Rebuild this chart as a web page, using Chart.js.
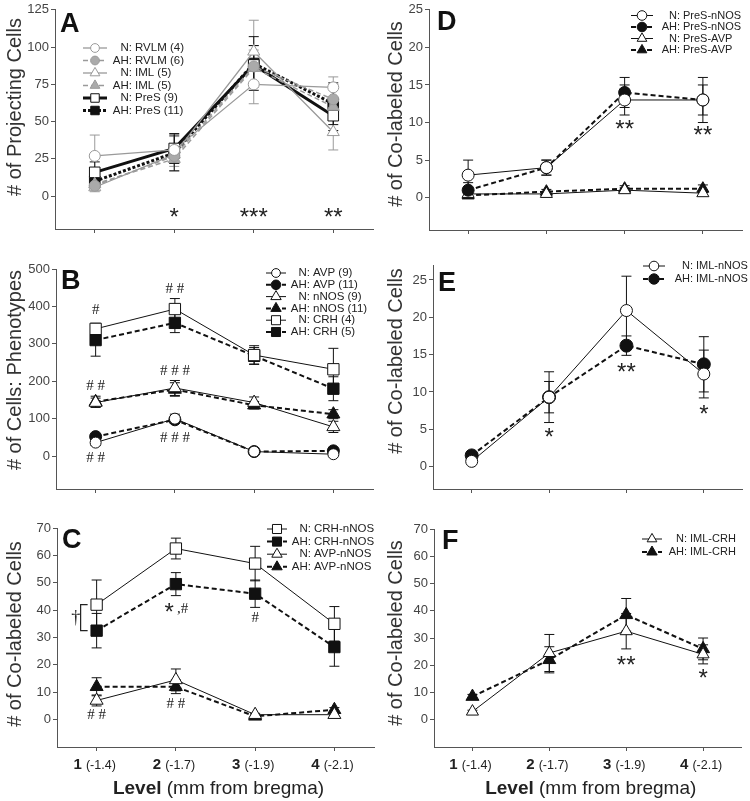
<!DOCTYPE html>
<html>
<head>
<meta charset="utf-8">
<script src="https://cdn.jsdelivr.net/npm/chart.js@4.4.0/dist/chart.umd.min.js"></script>
<style>
html, body { margin: 0; padding: 0; background: #fff; }
#wrap { position: relative; width: 750px; height: 801px; }
canvas { position: absolute; left: 0; top: 0; }
</style>
</head>
<body>
<div id="wrap">
<canvas id="cA"></canvas><canvas id="cB"></canvas><canvas id="cC"></canvas>
<canvas id="cD"></canvas><canvas id="cE"></canvas><canvas id="cF"></canvas>
</div>
<script>
// levels along the x axis
const levels = [1, 2, 3, 4];
const levelNums = ['1', '2', '3', '4'];
const bregma = ['(-1.4)', '(-1.7)', '(-1.9)', '(-2.1)'];

// A - projecting cells (mean, sem)
const rvlmN = [27, 31, 75, 73],  rvlmNErr = [14, 9, 13, 7];
const rvlmAH = [7, 27, 87, 65],  rvlmAHErr = [3, 7, 14, 10];
const imlN = [6, 28, 97, 43],    imlNErr = [3, 6, 21, 12];
const imlAH = [8, 25, 86, 60],   imlAHErr = [3, 8, 12, 6];
const presN = [16, 32, 88, 54],  presNErr = [7, 10, 13, 10];
const presAH = [10, 29, 89, 62], presAHErr = [4, 12, 18, 14];
const aTicks = [0, 25, 50, 75, 100, 125];

// B - phenotypes
const avpN = [36, 100, 12, 5],      avpNErr = [8, 12, 5, 4];
const avpAH = [52, 97, 12, 14],     avpAHErr = [6, 10, 4, 5];
const nosN = [143, 182, 143, 78],   nosNErr = [12, 20, 15, 15];
const nosAH = [145, 178, 136, 112], nosAHErr = [15, 18, 10, 12];
const crhN = [340, 393, 270, 232],  crhNErr = [15, 28, 25, 56];
const crhAH = [310, 356, 268, 180], crhAHErr = [43, 26, 22, 32];
const bTicks = [0, 100, 200, 300, 400, 500];

// C - co-labeled with nNOS
const crhNosN = [42, 62.5, 57, 35],    crhNosNErr = [9, 3.8, 6.3, 6.3];
const crhNosAH = [32.5, 49.5, 46, 26.5], crhNosAHErr = [6.3, 4.2, 5, 7];
const avpNosN = [7, 14.5, 1.8, 1.8],   avpNosNErr = [2, 4, 0.5, 0.5];
const avpNosAH = [12, 12, 1.2, 3.6],   avpNosAHErr = [3.3, 2.5, 0.5, 0.8];
const cTicks = [0, 10, 20, 30, 40, 50, 60, 70];

// D - PreS co-labeled
const presNosN = [3, 4, 13, 13],       presNosNErr = [2, 1, 2, 3];
const presNosAH = [1, 4, 14, 13],      presNosAHErr = [1, 1, 2, 2];
const presAvpN = [0.5, 0.5, 1, 0.6],   presAvpNErr = [0.3, 0.3, 0.3, 0.3];
const presAvpAH = [0.3, 0.8, 1.2, 1.2], presAvpAHErr = [0.3, 0.3, 0.4, 0.5];
const dTicks = [0, 5, 10, 15, 20, 25];

// E - IML-nNOS
const imlNosN = [0.7, 9.3, 20.9, 12.4],  imlNosNErr = [0.3, 3.4, 4.6, 3.2];
const imlNosAH = [1.5, 9.3, 16.2, 13.7], imlNosAHErr = [0.5, 2.1, 1.3, 3.7];
const eTicks = [0, 5, 10, 15, 20, 25];

// F - IML-CRH
const imlCrhN = [3, 24.5, 32.5, 24],  imlCrhNErr = [0.5, 6.8, 6.5, 3.5];
const imlCrhAH = [8.5, 22, 38.5, 26], imlCrhAHErr = [0.8, 4.8, 6, 4];
const fTicks = [0, 10, 20, 30, 40, 50, 60, 70];

// significance marks
const aNotes = [{x: 2, y: -11, t: '*'}, {x: 3, y: -11, t: '***'}, {x: 4, y: -11, t: '**'}];
const bNotes = [{x: 1, y: 393, t: '#', s: 1}, {x: 2, y: 449, t: '# #', s: 1}, {x: 1, y: 190, t: '# #', s: 1},
                {x: 2, y: 230, t: '# # #', s: 1}, {x: 2, y: 51, t: '# # #', s: 1}, {x: 1, y: -3, t: '# #', s: 1}];
const cNotes = [{x: 2, y: 40.8, t: '*', dx: -2}, {x: 2, y: 40.8, t: ',#', dx: 1, s: 1}, {x: 3, y: 37.5, t: '#', s: 1},
                {x: 1, y: 2, t: '# #', s: 1}, {x: 2, y: 6, t: '# #', s: 1}];
const dNotes = [{x: 3, y: 9.8, t: '**'}, {x: 4, y: 9, t: '**'}];
const eNotes = [{x: 2, y: 4.6, t: '*'}, {x: 3, y: 13.3, t: '**'}, {x: 4, y: 7.6, t: '*'}];
const fNotes = [{x: 3, y: 21.9, t: '**'}, {x: 4, y: 17.1, t: '*'}];

const SANS = "'Liberation Sans', Arial, sans-serif";
const SERIF = "'Liberation Serif', 'Times New Roman', serif";
const GRAY = '#9a9a9a';
const decorFor = {};

function mk(label, vals, errs, o) {
    const c = o.color || '#111';
    return {
        label: label,
        data: levels.map((x, i) => ({x: x, y: vals[i]})),
        err: errs,
        borderColor: c,
        borderWidth: o.lw || 1,
        borderDash: o.dash || [],
        pointStyle: o.shape,
        pointRadius: o.r || 5.5,
        pointBorderWidth: 1,
        pointBorderColor: c,
        pointBackgroundColor: o.filled ? (o.fill || c) : '#fff',
        tension: 0,
        fill: false
    };
}

function centerBase(ctx, t, y) {
    // put the glyph's visual centre on y
    const m = ctx.measureText(t);
    return y + (m.actualBoundingBoxAscent - m.actualBoundingBoxDescent) / 2;
}

const panelDecor = {
    id: 'panelDecor',
    beforeDatasetsDraw(chart) {
        const ctx = chart.ctx, ys = chart.scales.y;
        chart.data.datasets.forEach((ds, i) => {
            const meta = chart.getDatasetMeta(i);
            ctx.save();
            ctx.strokeStyle = ds.borderColor;
            ctx.lineWidth = 1;
            ctx.setLineDash([]);
            meta.data.forEach((pt, j) => {
                const e = ds.err[j];
                if (!e) return;
                const v = ds.data[j].y;
                const y1 = ys.getPixelForValue(v - e), y2 = ys.getPixelForValue(v + e);
                ctx.beginPath();
                ctx.moveTo(pt.x, y1); ctx.lineTo(pt.x, y2);
                ctx.moveTo(pt.x - 5, y1); ctx.lineTo(pt.x + 5, y1);
                ctx.moveTo(pt.x - 5, y2); ctx.lineTo(pt.x + 5, y2);
                ctx.stroke();
            });
            ctx.restore();
        });
    },
    afterDraw(chart) {
        const d = decorFor[chart.canvas.id];
        const ctx = chart.ctx, xs = chart.scales.x, ys = chart.scales.y;
        ctx.save();
        // panel letter
        ctx.fillStyle = '#111';
        ctx.font = 'bold 27px ' + SANS;
        ctx.textAlign = 'left';
        ctx.textBaseline = 'alphabetic';
        ctx.fillText(d.letter, d.lx, d.ly);

        // y axis title
        ctx.save();
        ctx.translate(d.tx, d.ty);
        ctx.rotate(-Math.PI / 2);
        ctx.font = '20px ' + SANS;
        ctx.fillStyle = '#333';
        ctx.textAlign = 'center';
        ctx.textBaseline = 'middle';
        ctx.fillText(d.title, 0, 0);
        ctx.restore();

        // legend
        const L = d.legend;
        chart.data.datasets.forEach((ds, i) => {
            const y = L.y0 + i * L.dy;
            ctx.save();
            ctx.strokeStyle = ds.borderColor;
            ctx.lineWidth = ds.borderWidth;
            ctx.setLineDash(ds.borderDash);
            ctx.beginPath();
            ctx.moveTo(L.cx - L.half, y);
            ctx.lineTo(L.cx + L.half, y);
            ctx.stroke();
            ctx.setLineDash([]);
            ctx.fillStyle = ds.pointBackgroundColor;
            ctx.strokeStyle = ds.pointBorderColor;
            ctx.lineWidth = 1;
            Chart.helpers.drawPoint(ctx, {pointStyle: ds.pointStyle, radius: ds.pointRadius * 0.8, rotation: 0, borderWidth: 1}, L.cx, y);
            ctx.restore();
            const parts = ds.label.split(': ');
            ctx.font = L.size + 'px ' + SANS;
            ctx.fillStyle = '#222';
            ctx.textBaseline = 'middle';
            ctx.textAlign = 'right';
            ctx.fillText(parts[0] + ':', L.colon, y);
            ctx.textAlign = 'left';
            ctx.fillText(parts[1], L.colon + 3, y);
        });

        // significance marks
        d.notes.forEach(n => {
            ctx.font = n.s ? '15px ' + SERIF : '24px ' + SANS;
            ctx.fillStyle = '#222';
            ctx.textAlign = n.dx ? (n.dx < 0 ? 'right' : 'left') : 'center';
            const x = xs.getPixelForValue(n.x) + (n.dx || 0);
            const ref = n.s ? '#' : '*';
            ctx.textBaseline = 'alphabetic';
            ctx.fillText(n.t, x, centerBase(ctx, ref, ys.getPixelForValue(n.y)));
        });

        // dagger with bracket (panel C)
        if (d.dagger) {
            const g = d.dagger;
            const bx = xs.getPixelForValue(1) - 16;
            const y1 = ys.getPixelForValue(g.hi), y2 = ys.getPixelForValue(g.lo);
            ctx.strokeStyle = '#222';
            ctx.lineWidth = 1.2;
            ctx.beginPath();
            ctx.moveTo(bx + 7, y1); ctx.lineTo(bx, y1); ctx.lineTo(bx, y2); ctx.lineTo(bx + 7, y2);
            ctx.stroke();
            ctx.font = '18px ' + SERIF;
            ctx.fillStyle = '#222';
            ctx.textAlign = 'center';
            ctx.fillText('\u2020', bx - 5, centerBase(ctx, '\u2020', (y1 + y2) / 2));
        }

        // x labels on the bottom row
        if (d.xLabels) {
            ctx.fillStyle = '#222';
            ctx.textBaseline = 'alphabetic';
            levels.forEach((v, i) => {
                ctx.font = 'bold 15px ' + SANS;
                const w1 = ctx.measureText(levelNums[i] + ' ').width;
                ctx.font = '12.5px ' + SANS;
                const w2 = ctx.measureText(bregma[i]).width;
                const x0 = xs.getPixelForValue(v) - (w1 + w2) / 2 - 2;
                ctx.textAlign = 'left';
                ctx.font = 'bold 15px ' + SANS;
                ctx.fillText(levelNums[i], x0, 769);
                ctx.font = '12.5px ' + SANS;
                ctx.fillText(bregma[i], x0 + w1, 769);
            });
            ctx.font = 'bold 19px ' + SANS;
            const wa = ctx.measureText('Level ').width;
            ctx.font = '19px ' + SANS;
            const wb = ctx.measureText('(mm from bregma)').width;
            const cx = (chart.chartArea.left + chart.chartArea.right) / 2 + 3;
            ctx.font = 'bold 19px ' + SANS;
            ctx.fillText('Level', cx - (wa + wb) / 2, 794);
            ctx.font = '19px ' + SANS;
            ctx.fillText('(mm from bregma)', cx - (wa + wb) / 2 + wa, 794);
        }
        ctx.restore();
    }
};

function panel(id, box, yMin, yMax, yTicks, datasets, decor) {
    const cv = document.getElementById(id);
    cv.width = 750;
    cv.height = 801;
    decorFor[id] = decor;
    return new Chart(cv, {
        type: 'line',
        data: {datasets: datasets},
        options: {
            responsive: false,
            animation: false,
            devicePixelRatio: 1,
            layout: {padding: {left: box.l - 45, right: 750 - box.r, top: box.t, bottom: 801 - box.b - 10}},
            plugins: {legend: {display: false}, tooltip: {enabled: false}},
            scales: {
                x: {
                    type: 'linear', min: 0.5, max: 4.5,
                    afterBuildTicks: s => { s.ticks = levels.map(v => ({value: v})); },
                    afterFit: s => { s.height = 10; },
                    grid: {drawOnChartArea: false, drawTicks: true, tickLength: 4, color: '#555'},
                    border: {color: '#555', width: 1},
                    ticks: {display: false}
                },
                y: {
                    min: yMin, max: yMax,
                    afterBuildTicks: s => { s.ticks = yTicks.map(v => ({value: v})); },
                    afterFit: s => { s.width = 45; },
                    grid: {drawOnChartArea: false, drawTicks: true, tickLength: 4, color: '#555'},
                    border: {color: '#555', width: 1},
                    ticks: {color: '#444', padding: 2, font: {size: 13, family: SANS}}
                }
            }
        },
        plugins: [panelDecor]
    });
}

const dashAH = {lw: 2, dash: [5, 3]};

panel('cA', {l: 55, r: 373, t: 8, b: 229}, -22, 125, aTicks, [
    mk('N: RVLM (4)', rvlmN, rvlmNErr, {shape: 'circle', color: GRAY, lw: 1.3}),
    mk('AH: RVLM (6)', rvlmAH, rvlmAHErr, {shape: 'circle', color: GRAY, filled: true, fill: '#aaa', lw: 1.5, dash: [5, 3]}),
    mk('N: IML (5)', imlN, imlNErr, {shape: 'triangle', r: 7, color: GRAY, lw: 1.3}),
    mk('AH: IML (5)', imlAH, imlAHErr, {shape: 'triangle', r: 7, color: GRAY, filled: true, fill: '#aaa', lw: 1.5, dash: [5, 3]}),
    mk('N: PreS (9)', presN, presNErr, {shape: 'rect', r: 7.5, lw: 3}),
    mk('AH: PreS (11)', presAH, presAHErr, {shape: 'rect', r: 7.5, filled: true, lw: 3, dash: [3, 2]})
], {letter: 'A', lx: 60, ly: 32, title: '# of Projecting Cells', tx: 15, ty: 107,
    legend: {cx: 95, half: 12, colon: 132, y0: 48, dy: 12.5, size: 11.5}, notes: aNotes});

panel('cB', {l: 56, r: 373, t: 269, b: 489}, -88, 500, bTicks, [
    mk('N: AVP (9)', avpN, avpNErr, {shape: 'circle', r: 5.5}),
    mk('AH: AVP (11)', avpAH, avpAHErr, Object.assign({shape: 'circle', r: 6, filled: true}, dashAH)),
    mk('N: nNOS (9)', nosN, nosNErr, {shape: 'triangle', r: 7.5}),
    mk('AH: nNOS (11)', nosAH, nosAHErr, Object.assign({shape: 'triangle', r: 7.5, filled: true}, dashAH)),
    mk('N: CRH (4)', crhN, crhNErr, {shape: 'rect', r: 8}),
    mk('AH: CRH (5)', crhAH, crhAHErr, Object.assign({shape: 'rect', r: 8, filled: true}, dashAH))
], {letter: 'B', lx: 61, ly: 289, title: '# of Cells: Phenotypes', tx: 15, ty: 370,
    legend: {cx: 276, half: 10, colon: 310, y0: 273, dy: 11.8, size: 11.5}, notes: bNotes});

panel('cC', {l: 57, r: 374, t: 528, b: 747}, -10, 70, cTicks, [
    mk('N: CRH-nNOS', crhNosN, crhNosNErr, {shape: 'rect', r: 8}),
    mk('AH: CRH-nNOS', crhNosAH, crhNosAHErr, Object.assign({shape: 'rect', r: 8, filled: true}, dashAH)),
    mk('N: AVP-nNOS', avpNosN, avpNosNErr, {shape: 'triangle', r: 7.5}),
    mk('AH: AVP-nNOS', avpNosAH, avpNosAHErr, Object.assign({shape: 'triangle', r: 7.5, filled: true}, dashAH))
], {letter: 'C', lx: 62, ly: 548, title: '# of Co-labeled Cells', tx: 15, ty: 634,
    legend: {cx: 277, half: 10, colon: 311, y0: 529, dy: 12.6, size: 11.5}, notes: cNotes,
    dagger: {hi: 42, lo: 32.5}, xLabels: true});

panel('cD', {l: 429, r: 749, t: 6, b: 230}, -4.3, 25, dTicks, [
    mk('N: PreS-nNOS', presNosN, presNosNErr, {shape: 'circle', r: 6}),
    mk('AH: PreS-nNOS', presNosAH, presNosAHErr, Object.assign({shape: 'circle', r: 6, filled: true}, dashAH)),
    mk('N: PreS-AVP', presAvpN, presAvpNErr, {shape: 'triangle', r: 7}),
    mk('AH: PreS-AVP', presAvpAH, presAvpAHErr, Object.assign({shape: 'triangle', r: 7, filled: true}, dashAH))
], {letter: 'D', lx: 437, ly: 30, title: '# of Co-labeled Cells', tx: 396, ty: 114,
    legend: {cx: 642, half: 11, colon: 680, y0: 15.5, dy: 11.5, size: 11}, notes: dNotes});

panel('cE', {l: 433, r: 749, t: 265, b: 489}, -3, 27, eTicks, [
    mk('N: IML-nNOS', imlNosN, imlNosNErr, {shape: 'circle', r: 6}),
    mk('AH: IML-nNOS', imlNosAH, imlNosAHErr, Object.assign({shape: 'circle', r: 6.5, filled: true}, dashAH))
], {letter: 'E', lx: 438, ly: 291, title: '# of Co-labeled Cells', tx: 396, ty: 361,
    legend: {cx: 654, half: 11, colon: 693, y0: 266, dy: 13, size: 11}, notes: eNotes});

panel('cF', {l: 434, r: 749, t: 529, b: 747}, -10, 70, fTicks, [
    mk('N: IML-CRH', imlCrhN, imlCrhNErr, {shape: 'triangle', r: 7}),
    mk('AH: IML-CRH', imlCrhAH, imlCrhAHErr, Object.assign({shape: 'triangle', r: 7.5, filled: true}, dashAH))
], {letter: 'F', lx: 442, ly: 549, title: '# of Co-labeled Cells', tx: 396, ty: 633,
    legend: {cx: 652, half: 10, colon: 687, y0: 539, dy: 13, size: 11}, notes: fNotes, xLabels: true});
</script>
</body>
</html>
